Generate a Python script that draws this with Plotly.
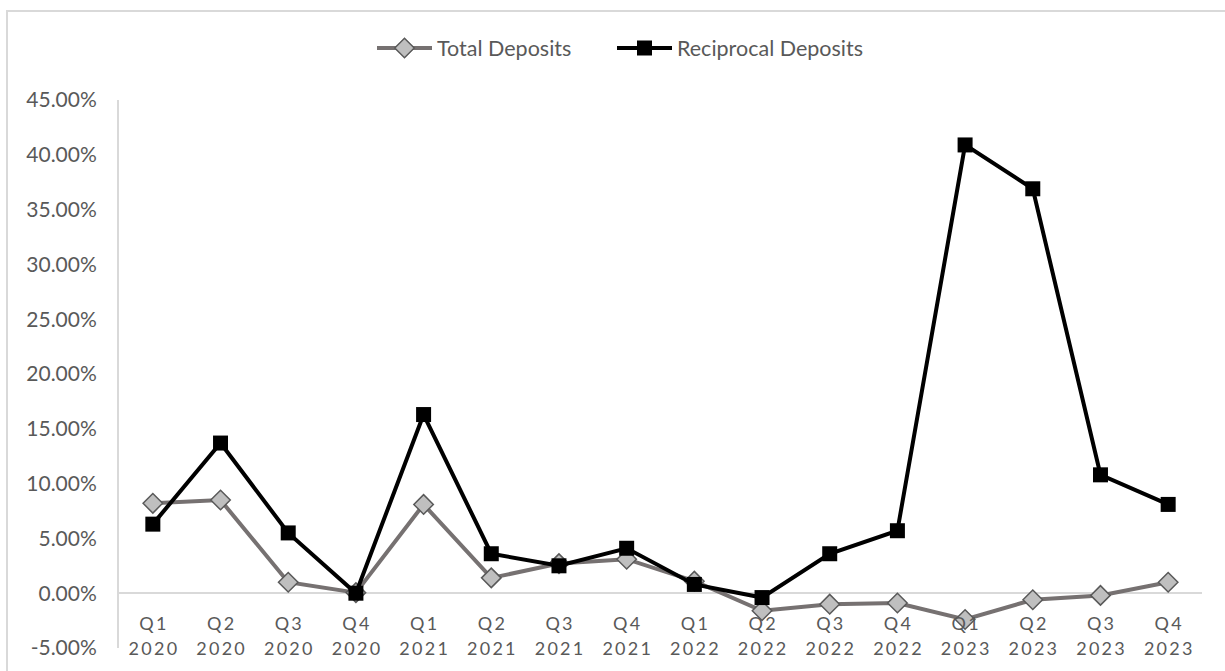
import plotly.graph_objects as go

# Quarter-over-quarter growth, %
quarters = ["Q1", "Q2", "Q3", "Q4"] * 4
years = ["2020"] * 4 + ["2021"] * 4 + ["2022"] * 4 + ["2023"] * 4
total_deposits = [8.2, 8.5, 1.0, 0.05, 8.1, 1.4, 2.7, 3.1,
                  1.1, -1.6, -1.0, -0.9, -2.4, -0.6, -0.2, 1.0]
reciprocal_deposits = [6.3, 13.7, 5.5, 0.0, 16.3, 3.6, 2.5, 4.1,
                       0.8, -0.4, 3.6, 5.7, 40.9, 36.9, 10.8, 8.1]
y_ticks = [-5, 0, 5, 10, 15, 20, 25, 30, 35, 40, 45]

THIN = "\u2009"
def spaced(s):
    return THIN.join(s)

idx = list(range(len(quarters)))
FONT = "Lato, 'Open Sans', sans-serif"
TXT = "#595959"

fig = go.Figure()
fig.add_trace(go.Scatter(
    x=idx, y=total_deposits, name="Total Deposits", mode="lines+markers",
    line=dict(color="#767171", width=4),
    marker=dict(symbol="diamond", size=15, color="#bfbfbf",
                line=dict(color="#595959", width=1.5)),
    legend="legend",
))
fig.add_trace(go.Scatter(
    x=idx, y=reciprocal_deposits, name="Reciprocal Deposits", mode="lines+markers",
    line=dict(color="#000000", width=4),
    marker=dict(symbol="square", size=15, color="#000000"),
    legend="legend2",
))

W, H = 1225, 671
L, R, T, B = 119, 23, 100, 23
ph = H - T - B
pw = W - L - R

legend_style = dict(orientation="h", xanchor="left",
                    y=1.0 + (T - 48) / ph, yanchor="middle",
                    font=dict(size=21.5, color=TXT), itemwidth=55,
                    bgcolor="rgba(0,0,0,0)")

fig.update_layout(
    width=W, height=H,
    margin=dict(l=L, r=R, t=T, b=B),
    paper_bgcolor="white", plot_bgcolor="white",
    font=dict(family=FONT, color=TXT, size=18),
    showlegend=True,
    legend=dict(x=(372 - L) / pw, **legend_style),
    legend2=dict(x=(612 - L) / pw, **legend_style),
    xaxis=dict(
        range=[-0.5, len(quarters) - 0.5], anchor="free",
        position=(648 - 611) / ph,
        tickmode="array", tickvals=idx, ticktext=[spaced(q) for q in quarters],
        showgrid=False, zeroline=False, showline=False, ticks="",
        tickfont=dict(size=18, color=TXT),
    ),
    xaxis2=dict(
        range=[-0.5, len(quarters) - 0.5], overlaying="x", anchor="free",
        position=(648 - 636) / ph, side="bottom",
        tickmode="array", tickvals=idx, ticktext=[spaced(y) for y in years],
        showgrid=False, zeroline=False, showline=False, ticks="",
        tickfont=dict(size=18, color=TXT),
    ),
    yaxis=dict(
        range=[-5, 45], tickvals=y_ticks,
        ticktext=[f"{v:.2f}%" for v in y_ticks],
        showgrid=False, zeroline=True, zerolinecolor="#d9d9d9", zerolinewidth=2,
        showline=True, linecolor="#d9d9d9", linewidth=2,
        ticks="outside", ticklen=0, ticklabelstandoff=16,
        tickfont=dict(size=21, color=TXT),
    ),
    shapes=[dict(
        type="rect", xref="paper", yref="paper",
        x0=(7 - L) / pw, x1=(W + 10 - L) / pw,
        y0=-(B + 10) / ph, y1=1 + (T - 11) / ph,
        line=dict(color="#d9d9d9", width=2), fillcolor="rgba(0,0,0,0)", layer="below",
    )],
)

# invisible trace so the second category axis is rendered
fig.add_trace(go.Scatter(x=[0], y=[None], xaxis="x2", showlegend=False,
                         hoverinfo="skip"))

fig.write_html("out.html")
